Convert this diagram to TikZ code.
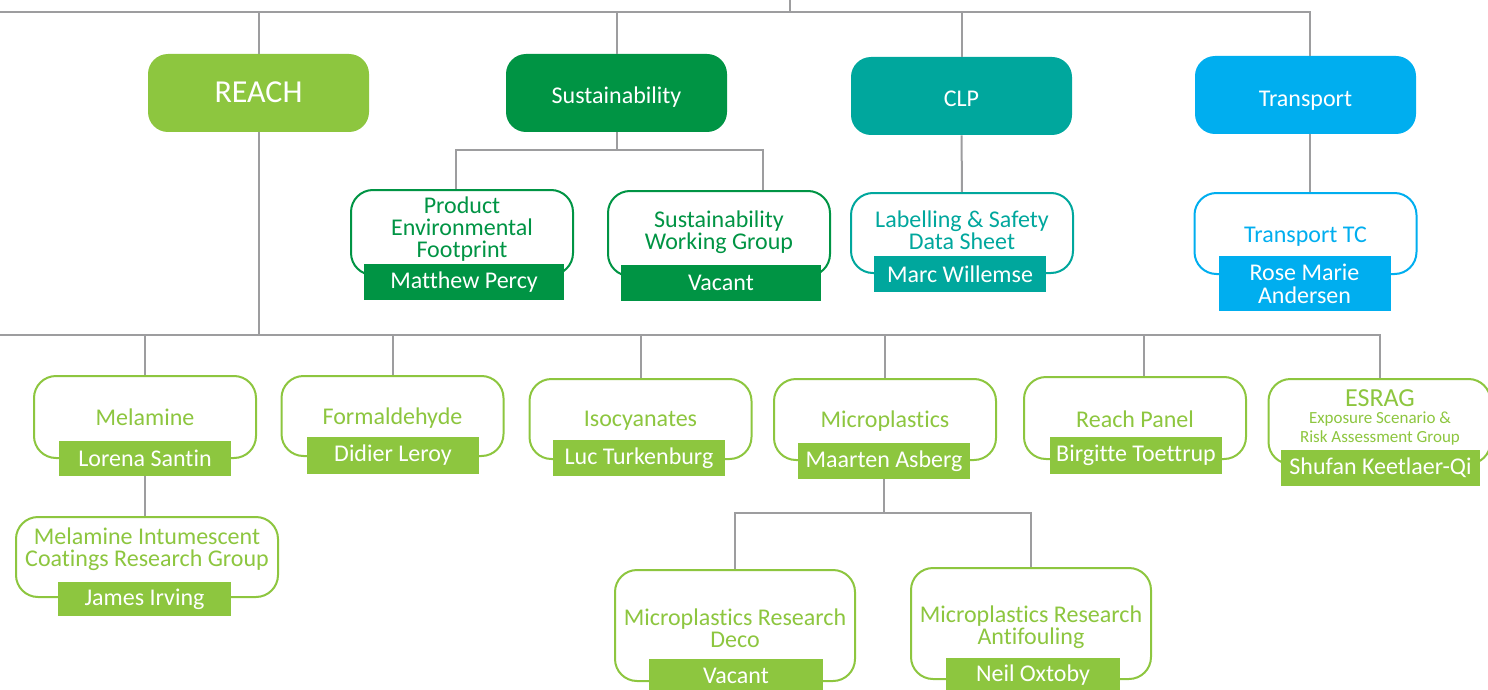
\documentclass[tikz,border=0pt]{standalone}
\usepackage{fontspec}
\setmainfont{Carlito}[Ligatures=NoCommon]
\usetikzlibrary{positioning,calc}
\definecolor{reachgreen}{HTML}{8DC63F}
\definecolor{sustgreen}{HTML}{009444}
\definecolor{clpteal}{HTML}{00A79D}
\definecolor{transblue}{HTML}{00AEEF}
\definecolor{linegray}{HTML}{9D9D9F}

\begin{document}
\begin{tikzpicture}[x=0.5pt, y=-0.5pt,
    headbox/.style={fill=#1, text=white, rounded corners=10pt, minimum width=110.5pt, minimum height=39pt, inner sep=0pt, text height=11pt, text depth=0pt, font=\fontsize{12}{13}\selectfont},
    groupbox/.style={draw=#1, line width=1pt, fill=white, rounded corners=11pt, minimum width=111pt, minimum height=41pt, inner sep=0pt},
    grouptitle/.style={text=#1, align=center, inner sep=0pt, font=\fontsize{12}{11}\selectfont},
    namebox/.style={fill=#1, text=white, align=center, minimum width=86pt, minimum height=18pt, inner sep=0pt, font=\fontsize{12}{11.5}\selectfont},
    link/.style={draw=linegray, line width=1pt}]
        \useasboundingbox (0,0) rectangle (1488,690);
        %nodes
        \node[headbox=reachgreen, text height=10pt, font=\fontsize{16}{17}\selectfont] (reach) at (258.5, 93) {REACH};
        \node[headbox=sustgreen] (sust) at (616.5, 93) {Sustainability};
        \node[headbox=clpteal, text height=10pt] (clp) at (961.5, 96) {CLP};
        \node[headbox=transblue] (trans) at (1305.5, 95) {Transport};
        %sustainability, clp, transport groups
        \node[groupbox=sustgreen, minimum height=42.5pt] (pef) at (462, 232.5) {};
        \node[grouptitle=sustgreen] (pefT) at (462, 229) {Product\\Environmental\\Footprint};
        \node[namebox=sustgreen, minimum width=100pt] (pefN) at (464, 282) {Matthew Percy};
        \node[groupbox=sustgreen, minimum height=42.5pt] (swg) at (719, 233.5) {};
        \node[grouptitle=sustgreen] (swgT) at (719, 232) {Sustainability\\Working Group};
        \node[namebox=sustgreen, minimum width=100pt] (swgN) at (721, 283) {Vacant};
        \node[groupbox=clpteal, minimum height=40pt] (lsds) at (962, 233) {};
        \node[grouptitle=clpteal] (lsdsT) at (962, 230.5) {Labelling \& Safety\\Data Sheet};
        \node[namebox=clpteal] (lsdsN) at (960, 274) {Marc Willemse};
        \node[groupbox=transblue, minimum height=40.5pt] (ttc) at (1305.5, 233.5) {};
        \node[grouptitle=transblue] (ttcT) at (1305.5, 237) {Transport TC};
        \node[namebox=transblue, minimum height=27.5pt] (ttcN) at (1304.5, 283.5) {Rose Marie\\Andersen};
        %reach groups
        \node[groupbox=reachgreen] (mel) at (145, 417) {};
        \node[grouptitle=reachgreen] (melT) at (145, 417) {Melamine};
        \node[namebox=reachgreen, minimum height=17.5pt] (melN) at (145, 458.5) {Lorena Santin};
        \node[groupbox=reachgreen, minimum height=40pt] (form) at (392.5, 416) {};
        \node[grouptitle=reachgreen] (formT) at (392.5, 418) {Formaldehyde};
        \node[namebox=reachgreen, minimum height=18.5pt] (formN) at (393, 455.5) {Didier Leroy};
        \node[groupbox=reachgreen, minimum height=40pt] (iso) at (640.5, 419) {};
        \node[grouptitle=reachgreen] (isoT) at (640.5, 421) {Isocyanates};
        \node[namebox=reachgreen] (isoN) at (639, 458) {Luc Turkenburg};
        \node[groupbox=reachgreen, minimum height=40.5pt] (micro) at (885, 419.5) {};
        \node[grouptitle=reachgreen] (microT) at (885, 421) {Microplastics};
        \node[namebox=reachgreen] (microN) at (884, 461) {Maarten Asberg};
        \node[groupbox=reachgreen] (rp) at (1135, 418) {};
        \node[grouptitle=reachgreen] (rpT) at (1135, 419) {Reach Panel};
        \node[namebox=reachgreen, minimum height=18.5pt] (rpN) at (1136, 455.5) {Birgitte Toettrup};
        \node[groupbox=reachgreen, minimum height=42.5pt] (esrag) at (1379.5, 421.5) {};
        \node[grouptitle=reachgreen, font=\fontsize{13}{14}\selectfont] (esragT) at (1380, 398) {ESRAG};
        \node[grouptitle=reachgreen, font=\fontsize{8.5}{9.5}\selectfont] (esragS) at (1380, 429) {Exposure Scenario \&\\Risk Assessment Group};
        \node[namebox=reachgreen, minimum width=99.5pt] (esragN) at (1380.5, 467.5) {Shufan Keetlaer-Qi};
        \node[groupbox=reachgreen, minimum width=131pt, minimum height=40pt] (micg) at (147, 557) {};
        \node[grouptitle=reachgreen] (micgT) at (147, 549) {Melamine Intumescent\\Coatings Research Group};
        \node[namebox=reachgreen, minimum width=86.5pt, minimum height=17pt] (micgN) at (144.5, 599) {James Irving};
        \node[groupbox=reachgreen, minimum width=120pt, minimum height=55.5pt] (mrdeco) at (735, 625.5) {};
        \node[grouptitle=reachgreen] (mrdecoT) at (735, 628) {Microplastics Research\\Deco};
        \node[namebox=reachgreen, minimum width=87pt, minimum height=17pt] (mrdecoN) at (736, 675.5) {Vacant};
        \node[groupbox=reachgreen, minimum width=120pt, minimum height=55.5pt] (mranti) at (1031, 623.5) {};
        \node[grouptitle=reachgreen] (mrantiT) at (1031, 627) {Microplastics Research\\Antifouling};
        \node[namebox=reachgreen, minimum width=87pt, minimum height=17pt] (mrantiN) at (1033, 675) {Neil Oxtoby};
        %edges
        \coordinate (root) at (790, 0);
        \coordinate (topbar) at (0, 12);
        \coordinate (tdrop) at (1310, 12);
        \draw[link] (root) -- (root |- topbar);
        \draw[link] (topbar) -- (tdrop) -- (tdrop |- trans.north);
        \foreach \n in {reach, sust, clp} \draw[link] (\n) -- (\n |- topbar);
        \coordinate (sbarL) at (456, 150);
        \coordinate (sbarR) at (763, 150);
        \draw[link] (sust) -- (sust |- sbarL);
        \draw[link] (pef.north -| sbarL) |- (sbarR) -- (swg.north -| sbarR);
        \draw[link] (clp) -- (lsds);
        \draw[link] (trans.south -| tdrop) -- (tdrop |- ttc.north);
        \coordinate (rbar) at (0, 335);
        \draw[link] (reach) -- (reach |- rbar);
        \draw[link] (rbar) -| (esrag);
        \foreach \n in {mel, form, iso, micro} \draw[link] (\n) -- (\n |- rbar);
        \coordinate (rpdrop) at (1144, 335);
        \draw[link] (rpdrop) -- (rpdrop |- rp.north);
        \draw[link] (melN) -- (melN |- micg.north);
        \coordinate (mbar) at (885, 513);
        \draw[link] (microN) -- (microN |- mbar);
        \draw[link] (mrdeco) |- (mranti |- mbar) -- (mranti);
\end{tikzpicture}
\end{document}
